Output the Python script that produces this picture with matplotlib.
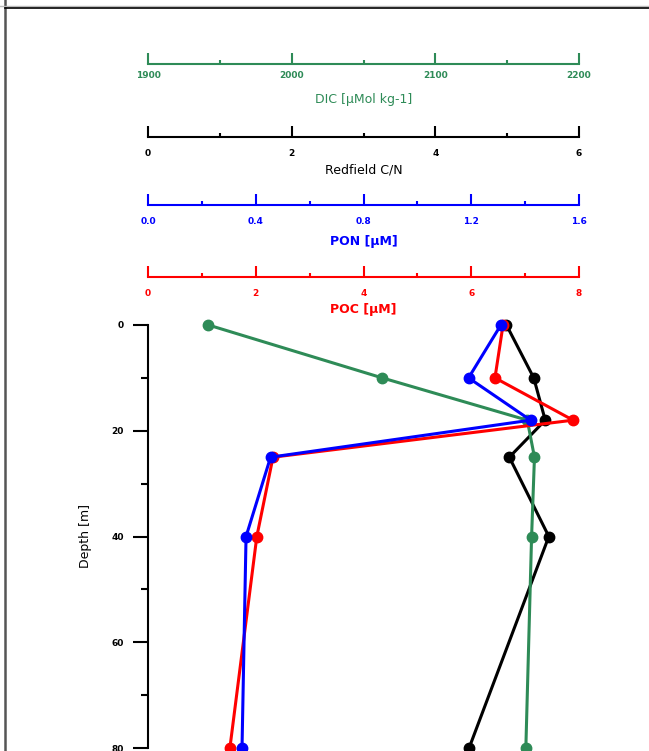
import matplotlib
matplotlib.use("Agg")
import matplotlib.pyplot as plt
from matplotlib.lines import Line2D
from matplotlib.ticker import MultipleLocator

# Data
depth = [0, 10, 18, 25, 40, 80]
dic = [1942, 2063, 2164, 2169, 2167, 2163]
cn = [4.99, 5.37, 5.53, 5.03, 5.58, 4.47]
pon = [1.31, 1.19, 1.42, 0.455, 0.364, 0.349]
poc = [6.59, 6.44, 7.89, 2.32, 2.02, 1.52]

depth_ticks = [0, 20, 40, 60, 80]
dic_ticks = [1900, 2000, 2100, 2200]
cn_ticks = [0, 2, 4, 6]
pon_ticks = [0.0, 0.4, 0.8, 1.2, 1.6]
poc_ticks = [0, 2, 4, 6, 8]

GREEN = "#2e8b57"
W, H = 649, 751

fig = plt.figure(figsize=(W / 100, H / 100), dpi=100)


def px(x, y):
    return x / W, 1 - y / H


# page frame lines (screenshot border)
fig.add_artist(Line2D([4.5 / W, 4.5 / W], [0, 1], color="#555555", lw=1.8))
fig.add_artist(Line2D([0, 1], [1 - 6 / H, 1 - 6 / H], color="#bbbbbb", lw=1))
fig.add_artist(Line2D([5 / W, 1], [1 - 8 / H, 1 - 8 / H], color="black", lw=1.2))

x0, x1 = 148, 579
y0, y1 = 325, 748
ax = fig.add_axes([x0 / W, 1 - y1 / H, (x1 - x0) / W, (y1 - y0) / H])

lw, ms = 2.2, 7.5

# black: Redfield C/N
ax.plot(cn, depth, color="black", lw=lw, marker="o", ms=ms, clip_on=False)
ax.set_xlim(0, 6)
ax.set_ylim(80, 0)
for s in ("top", "right", "bottom"):
    ax.spines[s].set_visible(False)
ax.spines["left"].set_linewidth(1.5)
ax.xaxis.set_visible(False)
ax.set_yticks(depth_ticks)
ax.yaxis.set_minor_locator(MultipleLocator(10))
ax.tick_params(axis="y", which="major", length=10.5, width=1.5, pad=7,
               labelsize=6.5)
ax.tick_params(axis="y", which="minor", length=5, width=1.5)
for t in ax.get_yticklabels():
    t.set_fontweight("bold")
ax.set_ylabel("Depth [m]", fontsize=9, labelpad=14)

series = [(dic, GREEN, (1900, 2200)), (poc, "red", (0, 8)), (pon, "blue", (0, 1.6))]
for vals, col, lim in series:
    a = ax.twiny()
    a.plot(vals, depth, color=col, lw=lw, marker="o", ms=ms, clip_on=False)
    a.set_xlim(*lim)
    a.set_ylim(80, 0)
    a.axis("off")

# top scale bars
scales = [
    (64, GREEN, dic_ticks, 50, ["1900", "2000", "2100", "2200"], 5,
     "DIC [µMol kg-1]", 100, "normal"),
    (137, "black", cn_ticks, 1, ["0", "2", "4", "6"], 9,
     "Redfield C/N", 170, "normal"),
    (205, "blue", pon_ticks, 0.2, ["0.0", "0.4", "0.8", "1.2", "1.6"], 9,
     "PON [µM]", 241, "bold"),
    (277, "red", poc_ticks, 1, ["0", "2", "4", "6", "8"], 9,
     "POC [µM]", 309, "bold"),
]
for y, col, ticks, mnr, labels, pad, title, ty, fw in scales:
    s = fig.add_axes([x0 / W, 1 - y / H, (x1 - x0) / W, 1e-5])
    s.set_xlim(ticks[0], ticks[-1])
    s.patch.set_visible(False)
    for k in ("top", "left", "right"):
        s.spines[k].set_visible(False)
    s.spines["bottom"].set_color(col)
    s.spines["bottom"].set_linewidth(1.5)
    s.set_yticks([])
    s.set_xticks(ticks)
    s.set_xticklabels(labels)
    s.xaxis.set_minor_locator(MultipleLocator(mnr))
    s.tick_params(axis="x", which="major", direction="in", length=8,
                  width=1.5, color=col, labelcolor=col, labelsize=6.5, pad=pad)
    s.tick_params(axis="x", which="minor", direction="in", length=3,
                  width=1.5, color=col)
    for t in s.get_xticklabels():
        t.set_fontweight("bold")
    fx, fy = px((x0 + x1) / 2, ty)
    fig.text(fx, fy, title, color=col, fontsize=9, fontweight=fw,
             ha="center", va="center")

fig.savefig("out.png", dpi=100)
